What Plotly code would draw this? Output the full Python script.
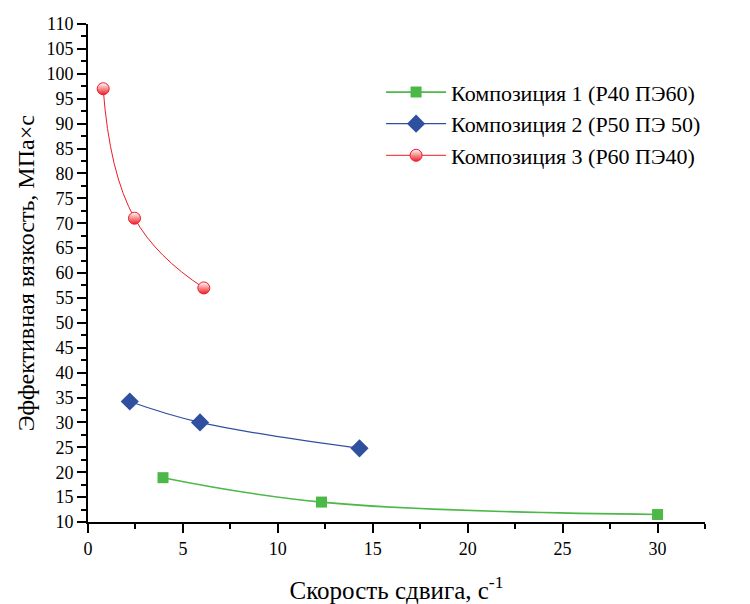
import plotly.graph_objects as go

names = ["Композиция 1 (Р40 ПЭ60)", "Композиция 2 (Р50 ПЭ 50)", "Композиция 3 (Р60 ПЭ40)"]
x1 = [3.95, 12.3, 30.0]
y1 = [18.9, 14.0, 11.5]
x2 = [2.2, 5.9, 14.3]
y2 = [34.2, 30.0, 24.8]
x3 = [0.8, 2.45, 6.1]
y3 = [97.0, 71.0, 57.0]
x_title = "Скорость сдвига, с<sup>-1</sup>"
y_title = "Эффективная вязкость, МПа×с"

FONT = "Times New Roman, Liberation Serif, Tinos, DejaVu Serif, serif"

fig = go.Figure()
fig.add_trace(go.Scatter(x=x1, y=y1, name=names[0], mode="lines+markers",
                         line=dict(color="#4cb848", width=1.6, shape="spline", smoothing=1.1),
                         marker=dict(symbol="square", size=11, color="#4cb848")))
fig.add_trace(go.Scatter(x=x2, y=y2, name=names[1], mode="lines+markers",
                         line=dict(color="#2f4f9f", width=1.2, shape="spline", smoothing=1.1),
                         marker=dict(symbol="diamond", size=14, color="#2f4f9f")))
fig.add_trace(go.Scatter(x=x3, y=y3, name=names[2], mode="lines+markers",
                         line=dict(color="#ee1c24", width=1.0, shape="spline", smoothing=1.3),
                         marker=dict(symbol="circle", size=12, color="white",
                                     gradient=dict(type="vertical", color="#ee1c24"),
                                     line=dict(color="#ee1c24", width=1))))

axis_common = dict(showline=True, linecolor="black", linewidth=2, ticks="outside",
                   ticklen=9, tickwidth=2, tickcolor="black", showgrid=False, zeroline=False,
                   automargin=False,
                   tickfont=dict(family=FONT, size=18, color="black"))
fig.update_xaxes(range=[0, 32.5], dtick=5, tick0=0,
                 minor=dict(ticks="outside", ticklen=5, tickwidth=2, tickcolor="black", dtick=2.5),
                 title=dict(text=x_title, font=dict(family=FONT, size=25, color="black"), standoff=24),
                 **axis_common)
fig.update_yaxes(range=[10, 110], dtick=5, tick0=10,
                 minor=dict(ticks="outside", ticklen=5, tickwidth=2, tickcolor="black", dtick=2.5),
                 **axis_common)
fig.add_annotation(text=y_title, xref="paper", yref="paper", x=-0.1, y=0.5,
                   textangle=-90, showarrow=False, xanchor="center", yanchor="middle",
                   font=dict(family=FONT, size=24, color="black"))
# the page body has an 8px margin, so the figure is offset by 8px; compensate
fig.update_layout(width=742, height=596, plot_bgcolor="white", paper_bgcolor="white",
                  font=dict(family=FONT, color="black"),
                  margin=dict(l=80, r=45, t=16, b=82),
                  legend=dict(x=0.475, y=0.905, xanchor="left", yanchor="top",
                              font=dict(family=FONT, size=22, color="black"),
                              itemwidth=60, bgcolor="rgba(0,0,0,0)", tracegroupgap=0))
fig.write_html("out.html")
